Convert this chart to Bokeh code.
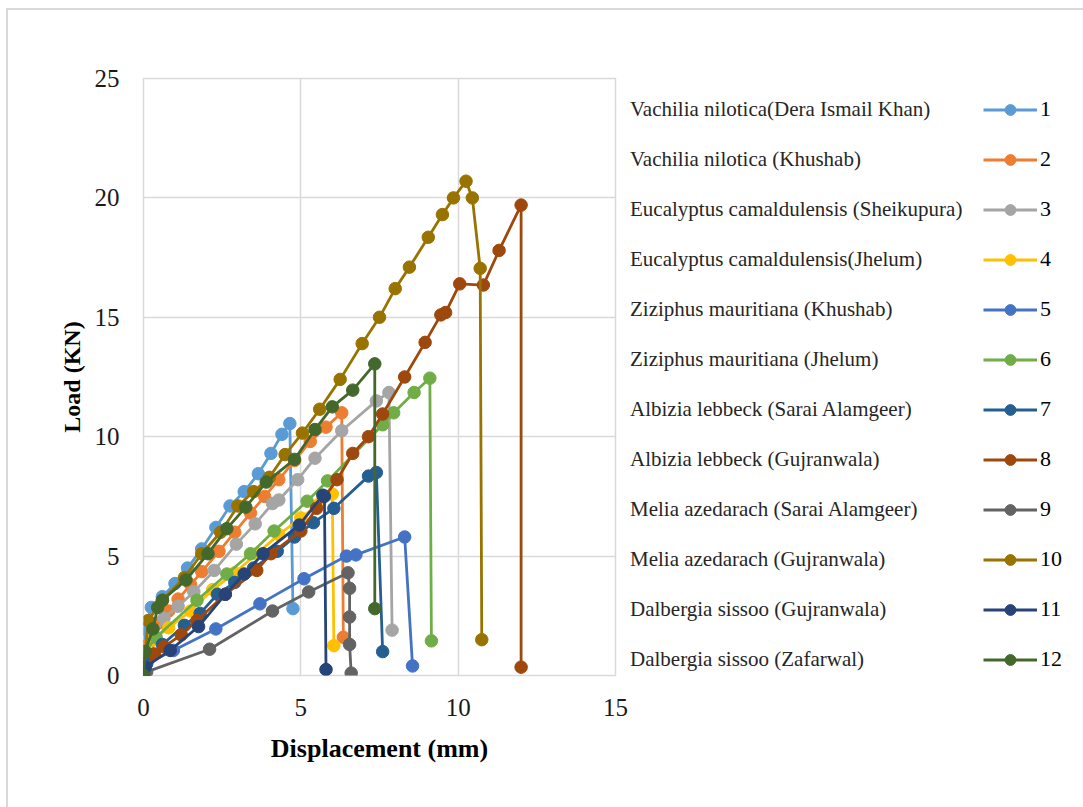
from bokeh.plotting import figure
from bokeh.layouts import row
from bokeh.models import Legend, LegendItem, FixedTicker, Range1d
from bokeh.embed import file_html
from bokeh.resources import INLINE

# ---- data (displacement mm, load kN) ----
x1 = [0, 0.05, 0.25, 0.6, 1.0, 1.4, 1.85, 2.3, 2.75, 3.2, 3.65, 4.05, 4.4, 4.65, 4.75]
y1 = [0, 1.95, 2.85, 3.3, 3.85, 4.5, 5.3, 6.2, 7.1, 7.7, 8.45, 9.3, 10.1, 10.55, 2.8]
x2 = [0, 0.15, 0.5, 0.8, 1.1, 1.5, 1.85, 2.4, 2.9, 3.4, 3.85, 4.3, 4.8, 5.3, 5.8, 6.3, 6.35]
y2 = [0, 1.3, 2.2, 2.7, 3.2, 3.8, 4.35, 5.2, 6.0, 6.8, 7.5, 8.2, 9.0, 9.8, 10.4, 11.0, 1.6]
x3 = [0, 0.05, 0.65, 1.1, 1.6, 2.25, 2.95, 3.55, 4.1, 4.3, 4.9, 5.45, 6.3, 7.4, 7.8, 7.9]
y3 = [0, 0.8, 2.4, 2.9, 3.5, 4.4, 5.5, 6.35, 7.2, 7.35, 8.2, 9.1, 10.25, 11.5, 11.85, 1.9]
x4 = [0, 0.3, 0.8, 1.5, 2.2, 2.9, 3.6, 4.3, 5.0, 5.6, 6.0, 6.05]
y4 = [0, 1.5, 2.0, 2.7, 3.6, 4.3, 5.1, 5.9, 6.6, 7.2, 7.6, 1.25]
x5 = [0, 0.1, 0.95, 2.3, 3.7, 5.1, 6.45, 6.75, 8.3, 8.55]
y5 = [0, 0.5, 1.05, 1.95, 3.0, 4.05, 5.0, 5.05, 5.8, 0.4]
x6 = [0, 0.05, 0.4, 1.7, 2.65, 3.4, 4.15, 5.2, 5.85, 7.6, 7.95, 8.6, 9.1, 9.15]
y6 = [0, 1.0, 1.6, 3.15, 4.25, 5.1, 6.05, 7.3, 8.15, 10.5, 11.0, 11.85, 12.45, 1.45]
x7 = [0, 0.1, 0.6, 1.3, 1.8, 2.35, 2.9, 3.5, 4.25, 4.8, 5.4, 6.05, 7.15, 7.4, 7.6]
y7 = [0, 0.5, 1.3, 2.1, 2.6, 3.4, 3.9, 4.5, 5.2, 5.8, 6.4, 7.0, 8.35, 8.5, 1.0]
x8 = [0, 0.35, 0.65, 1.2, 1.7, 2.6, 3.6, 4.05, 5.0, 5.5, 6.15, 6.65, 7.15, 7.6, 8.3, 8.95,
      9.45, 9.6, 10.05, 10.8, 11.3, 12.0, 12.0]
y8 = [0, 0.9, 1.2, 1.7, 2.3, 3.4, 4.4, 5.1, 6.05, 7.0, 8.2, 9.3, 10.0, 10.95, 12.5, 13.95,
      15.1, 15.2, 16.4, 16.35, 17.8, 19.7, 0.35]
x9 = [0, 0.1, 2.1, 4.1, 5.25, 6.5, 6.55, 6.55, 6.55, 6.6]
y9 = [0, 0.15, 1.1, 2.7, 3.5, 4.3, 3.65, 2.45, 1.3, 0.1]
x10 = [0, 0.15, 0.6, 1.3, 1.85, 2.45, 3.0, 3.5, 4.0, 4.5, 5.05, 5.6, 6.25, 6.95, 7.5, 8.0,
       8.45, 9.05, 9.5, 9.85, 10.25, 10.45, 10.7, 10.75]
y10 = [0, 2.3, 3.15, 4.1, 5.1, 6.0, 7.1, 7.7, 8.3, 9.25, 10.15, 11.15, 12.4, 13.9, 15.0, 16.2,
       17.1, 18.35, 19.3, 20.0, 20.7, 20.0, 17.05, 1.5]
x11 = [0, 0.05, 0.85, 1.75, 2.6, 3.2, 3.8, 4.95, 5.7, 5.75, 5.8]
y11 = [0, 0.35, 1.05, 2.05, 3.4, 4.25, 5.1, 6.3, 7.55, 7.5, 0.25]
x12 = [0, 0.05, 0.3, 0.45, 0.6, 1.35, 2.05, 2.65, 3.25, 3.9, 4.8, 5.45, 6.0, 6.65, 7.35, 7.35]
y12 = [0, 1.0, 1.95, 2.85, 3.15, 4.0, 5.1, 6.15, 7.05, 8.1, 9.05, 10.3, 11.25, 11.95, 13.05, 2.8]

xs = [x1, x2, x3, x4, x5, x6, x7, x8, x9, x10, x11, x12]
ys = [y1, y2, y3, y4, y5, y6, y7, y8, y9, y10, y11, y12]

series_labels = ["1", "2", "3", "4", "5", "6", "7", "8", "9", "10", "11", "12"]
species = [
    "Vachilia nilotica(Dera Ismail Khan)",
    "Vachilia nilotica (Khushab)",
    "Eucalyptus camaldulensis (Sheikupura)",
    "Eucalyptus camaldulensis(Jhelum)",
    "Ziziphus mauritiana (Khushab)",
    "Ziziphus mauritiana (Jhelum)",
    "Albizia lebbeck (Sarai Alamgeer)",
    "Albizia lebbeck (Gujranwala)",
    "Melia azedarach (Sarai Alamgeer)",
    "Melia azedarach (Gujranwala)",
    "Dalbergia sissoo (Gujranwala)",
    "Dalbergia sissoo (Zafarwal)",
]
colors = ["#5B9BD5", "#ED7D31", "#A5A5A5", "#FFC000", "#4472C4", "#70AD47",
          "#255E91", "#9E480E", "#636363", "#997300", "#264478", "#43682B"]

x_ticks = [0, 5, 10, 15]
y_ticks = [0, 5, 10, 15, 20, 25]

FONT = "Liberation Serif"
GRID = "#d9d9d9"

# ---------------- main chart ----------------
p = figure(width=630, height=807, x_range=Range1d(0, 15), y_range=Range1d(0, 25),
           output_backend="svg", toolbar_location=None,
           min_border_left=143, min_border_right=15, min_border_top=78, min_border_bottom=132)
p.background_fill_color = "white"
p.border_fill_alpha = 0.0
p.outline_line_color = GRID
p.outline_line_width = 1.5

for ax in (p.xaxis[0], p.yaxis[0]):
    ax.axis_line_color = None
    ax.major_tick_line_color = None
    ax.minor_tick_line_color = None
    ax.major_label_text_font = FONT
    ax.major_label_text_font_size = "25px"
    ax.major_label_text_color = "#1a1a1a"
    ax.axis_label_text_font = FONT
    ax.axis_label_text_font_style = "bold"
    ax.axis_label_text_color = "#000000"

p.xaxis[0].axis_label_text_font_size = "26px"
p.yaxis[0].axis_label_text_font_size = "24px"
p.xaxis[0].ticker = FixedTicker(ticks=x_ticks)
p.yaxis[0].ticker = FixedTicker(ticks=y_ticks)
p.xaxis[0].axis_label = "Displacement (mm)"
p.yaxis[0].axis_label = "Load (KN)"
p.xaxis[0].major_label_standoff = 17
p.xaxis[0].axis_label_standoff = 15
p.yaxis[0].major_label_standoff = 18
p.yaxis[0].axis_label_standoff = 7

p.xgrid[0].ticker = FixedTicker(ticks=x_ticks)
p.ygrid[0].ticker = FixedTicker(ticks=y_ticks)
for g in (p.xgrid[0], p.ygrid[0]):
    g.grid_line_color = GRID
    g.grid_line_width = 1.5

for i in range(12):
    p.line(xs[i], ys[i], line_color=colors[i], line_width=2.8)
    p.scatter(xs[i], ys[i], marker="circle", size=12.5, fill_color=colors[i], line_color=colors[i])

# ---------------- legend panel ----------------
# the series are re-plotted here far outside the visible range, only to feed the legend glyphs
q = figure(width=453, height=807, x_range=Range1d(-200, -199), y_range=Range1d(-200, -199),
           output_backend="svg", toolbar_location=None,
           x_axis_location=None, y_axis_location=None, min_border=0)
q.grid.visible = False
q.outline_line_color = None
q.background_fill_color = "white"
q.border_fill_alpha = 0.0

items = []
for i in range(12):
    lr = q.line(xs[i], ys[i], line_color=colors[i], line_width=3)
    sr = q.scatter(xs[i], ys[i], marker="circle", size=10, fill_color=colors[i], line_color=colors[i])
    items.append(LegendItem(label=series_labels[i], renderers=[lr, sr]))

ghost = q.scatter(xs[0], ys[0], marker="circle", size=0, fill_alpha=0, line_alpha=0)
name_items = [LegendItem(label=s, renderers=[ghost]) for s in species]

legend = Legend(items=items, location=(353, 2.5), orientation="vertical",
                padding=0, margin=0, spacing=23, glyph_width=54, glyph_height=27,
                label_height=27, label_standoff=3,
                label_text_font=FONT, label_text_font_size="22px", label_text_color="#000000",
                border_line_color=None, background_fill_alpha=0.0)
q.add_layout(legend, "center")

names = Legend(items=name_items, location=(0, 2.5), orientation="vertical",
               padding=0, margin=0, spacing=23, glyph_width=0, glyph_height=27,
               label_height=27, label_standoff=0,
               label_text_font=FONT, label_text_font_size="21px", label_text_color="#262626",
               border_line_color=None, background_fill_alpha=0.0)
q.add_layout(names, "center")

frame_css = ("linear-gradient(#d9d9d9, #d9d9d9) 7px 8px / 1076px 2px no-repeat, "
             "linear-gradient(#d9d9d9, #d9d9d9) 6px 8px / 2px 799px no-repeat, #ffffff")
layout = row(p, q, spacing=0, styles={"background": frame_css})
out = file_html(layout, INLINE)
open("out.html", "w").write(out)
